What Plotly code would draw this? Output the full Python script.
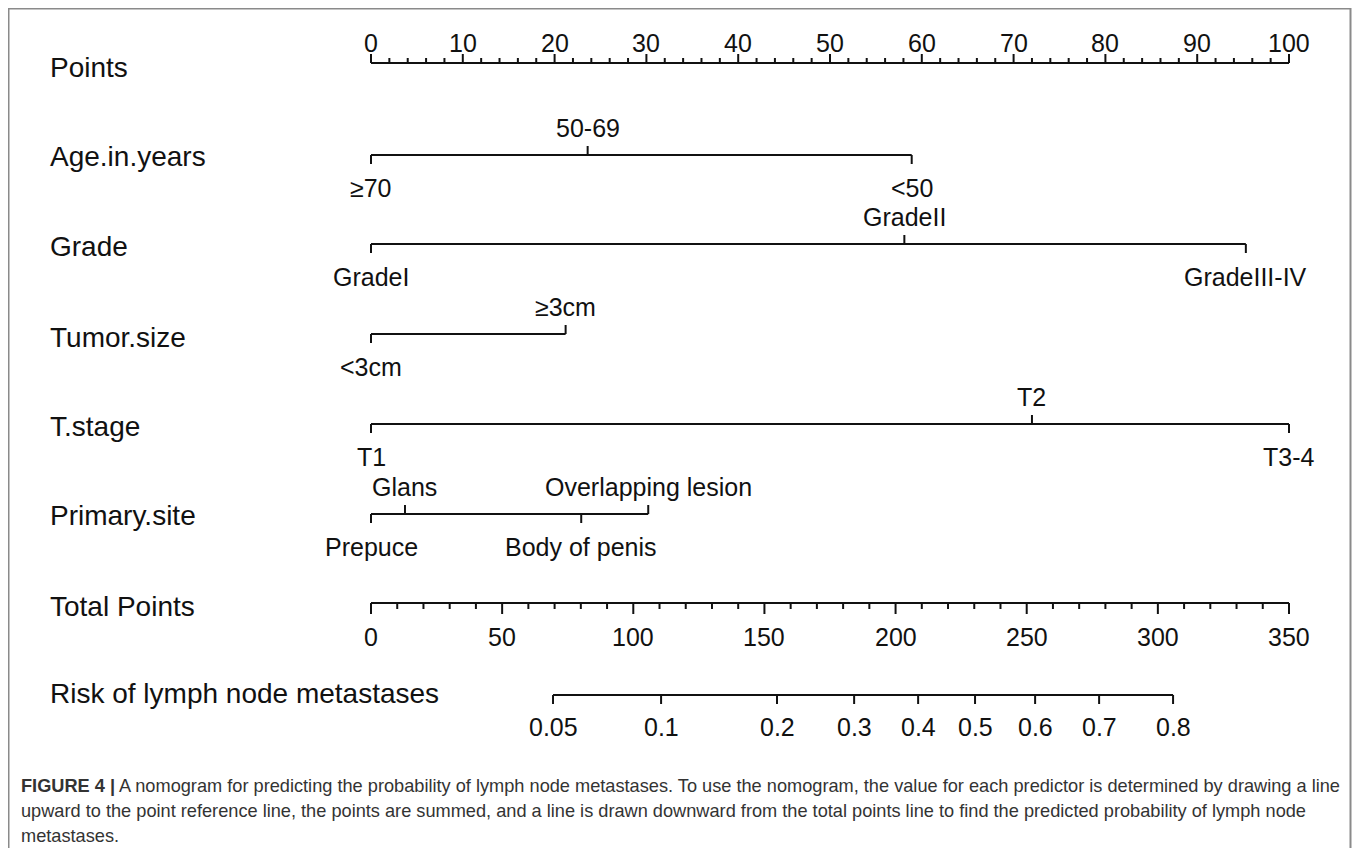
import plotly.graph_objects as go

# ---------------- data ----------------
points_ticks = list(range(0, 101, 10))
points_minor = list(range(0, 101, 2))

age_labels = ["≥70", "50-69", "<50"]
age_points = [0, 23.6, 58.9]

grade_labels = ["GradeI", "GradeII", "GradeIII-IV"]
grade_points = [0, 58.1, 95.3]

size_labels = ["<3cm", "≥3cm"]
size_points = [0, 21.2]

tstage_labels = ["T1", "T2", "T3-4"]
tstage_points = [0, 72.0, 100]

site_labels = ["Prepuce", "Glans", "Body of penis", "Overlapping lesion"]
site_points = [0, 3.7, 22.9, 30.2]

total_ticks = list(range(0, 351, 50))
total_minor = list(range(0, 351, 10))

risk_labels = ["0.05", "0.1", "0.2", "0.3", "0.4", "0.5", "0.6", "0.7", "0.8"]
risk_total_points = [69.4, 110.6, 154.8, 184.2, 208.6, 230.3, 253.2, 277.6, 305.8]

row_names = ["Points", "Age.in.years", "Grade", "Tumor.size", "T.stage",
             "Primary.site", "Total Points", "Risk of lymph node metastases"]

caption_lines = [
    "<b>FIGURE 4 |</b> A nomogram for predicting the probability of lymph node metastases. "
    "To use the nomogram, the value for each predictor is determined by drawing a line",
    "upward to the point reference line, the points are summed, and a line is drawn downward "
    "from the total points line to find the predicted probability of lymph node",
    "metastases.",
]

# ---------------- layout constants (screen pixels) ----------------
SCREEN_W, SCREEN_H = 1360, 856
OFF = 8                       # default page body margin
W, H = SCREEN_W - 2 * OFF, SCREEN_H - 2 * OFF
X0_PX, X100_PX = 371, 1289    # screen x of 0 and 100 points
PX = (X100_PX - X0_PX) / 100.0
XMIN = -(X0_PX - OFF) / PX
XMAX = (OFF + W - X0_PX) / PX
TOTAL_MAX = 350.0

row_y = [63, 155, 244, 334, 424, 514, 603, 695]
label_y = [67, 156, 246, 337, 426, 515, 606, 693]

FONT = "Liberation Sans, Arial, sans-serif"
INK = "#111111"

def px_paper(sx):
    return (sx - OFF) / W

def tp(v):
    return v * 100.0 / TOTAL_MAX

fig = go.Figure()
ann = []

def add_lines(xs, ys):
    fig.add_trace(go.Scatter(x=xs, y=ys, mode="lines",
                             line=dict(color=INK, width=2),
                             hoverinfo="skip", showlegend=False))

def add_text(x, y, text, size, xanchor="center"):
    ann.append(dict(x=x, y=y, xref="x", yref="y", text=text, showarrow=False,
                    xanchor=xanchor, yanchor="middle",
                    font=dict(family=FONT, size=size, color=INK)))

# row labels
for name, ly in zip(row_names, label_y):
    ann.append(dict(x=px_paper(48), y=ly, xref="paper", yref="y", text=name,
                    showarrow=False, xanchor="left", yanchor="middle",
                    font=dict(family=FONT, size=28, color=INK)))

# Points axis
y = row_y[0]
xs, ys = [0, 100, None], [y, y, None]
for v in points_minor:
    L = 9 if v % 10 == 0 else 5
    xs += [v, v, None]; ys += [y, y - L, None]
add_lines(xs, ys)
for v in points_ticks:
    add_text(v, 43, str(v), 25)

# categorical rows
cats = [(age_labels, age_points), (grade_labels, grade_points),
        (size_labels, size_points), (tstage_labels, tstage_points),
        (site_labels, site_points)]
for (labs, pts), y in zip(cats, row_y[1:6]):
    order = sorted(range(len(pts)), key=lambda i: pts[i])
    xs, ys = [min(pts), max(pts), None], [y, y, None]
    for k, i in enumerate(order):
        below = (k % 2 == 0)
        d = 9 if below else -9
        xs += [pts[i], pts[i], None]; ys += [y, y + d, None]
        add_text(pts[i], y + (33 if below else -27), labs[i], 25)
    add_lines(xs, ys)

# Total points axis
y = row_y[6]
xs, ys = [tp(0), tp(TOTAL_MAX), None], [y, y, None]
for v in total_minor:
    L = 11 if v % 50 == 0 else 6
    xs += [tp(v), tp(v), None]; ys += [y, y + L, None]
add_lines(xs, ys)
for v in total_ticks:
    add_text(tp(v), 637, str(v), 25)

# Risk axis
y = row_y[7]
xs, ys = [tp(risk_total_points[0]), tp(risk_total_points[-1]), None], [y, y, None]
for v in risk_total_points:
    xs += [tp(v), tp(v), None]; ys += [y, y + 9, None]
add_lines(xs, ys)
for lab, v in zip(risk_labels, risk_total_points):
    add_text(tp(v), 727, lab, 25)

# caption
for i, line in enumerate(caption_lines):
    ann.append(dict(x=px_paper(19), y=786 + 25 * i, xref="paper", yref="y", text=line,
                    showarrow=False, xanchor="left", yanchor="middle",
                    font=dict(family=FONT, size=18.2, color="#333333")))

shapes = [dict(type="rect", xref="paper", yref="y", x0=px_paper(8.5), x1=px_paper(1350.5),
               y0=8.5, y1=SCREEN_H + 10, line=dict(color="#8a8a8a", width=2),
               fillcolor="rgba(0,0,0,0)")]

fig.update_layout(
    width=W, height=H, autosize=False,
    margin=dict(l=0, r=0, t=0, b=0),
    paper_bgcolor="white", plot_bgcolor="white",
    xaxis=dict(range=[XMIN, XMAX], visible=False, fixedrange=True),
    yaxis=dict(range=[OFF + H, OFF], visible=False, fixedrange=True),
    annotations=ann, shapes=shapes, showlegend=False,
)

fig.write_html("out.html")
